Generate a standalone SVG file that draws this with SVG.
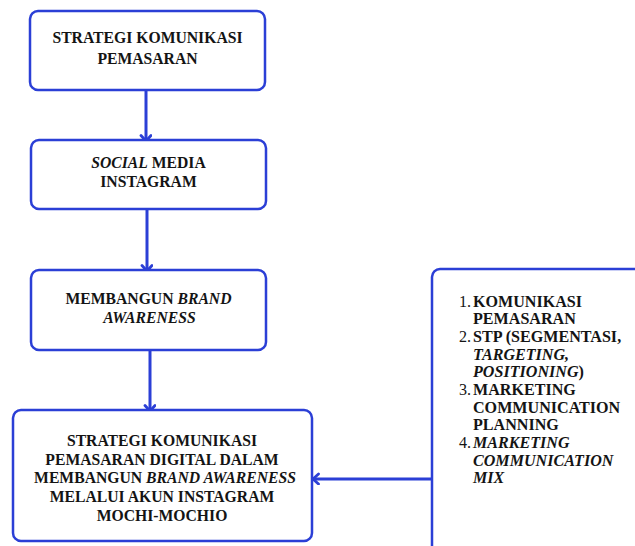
<svg xmlns="http://www.w3.org/2000/svg" width="635" height="546" viewBox="0 0 635 546">
<style>
.box{fill:#fff;stroke:#2B3FD6;stroke-width:2.5}
.t{font-family:"Liberation Serif","Times New Roman",serif;font-weight:bold;font-size:15.7px;fill:#141414}
.r{font-size:16.1px}
.c{text-anchor:middle}
.i{font-style:italic}
.n{font-weight:normal}
.con{stroke:#2B3FD6;stroke-width:3;fill:none;marker-end:url(#arr)}
</style>
<defs>
<marker id="arr" markerUnits="userSpaceOnUse" markerWidth="14" markerHeight="14" refX="7" refY="6" orient="auto" viewBox="0 0 14 14">
<path d="M1.5,1 L7,6 L1.5,11" fill="none" stroke="#2B3FD6" stroke-width="2.8" stroke-linecap="round" stroke-linejoin="round"/>
</marker>
</defs>
<rect width="635" height="546" fill="#fff"/>
<g id="connectors">
<line class="con" x1="146" y1="80" x2="146" y2="141"/>
<line class="con" x1="147" y1="206" x2="147" y2="271"/>
<line class="con" x1="150" y1="350" x2="150" y2="411"/>
<line class="con" x1="432" y1="479" x2="313" y2="479"/>
</g>
<g id="node1">
<rect class="box" x="30" y="11" width="235" height="79" rx="8"/>
<text class="t c" x="147.5" y="43">STRATEGI KOMUNIKASI</text>
<text class="t c" x="147.5" y="64">PEMASARAN</text>
</g>
<g id="node2">
<rect class="box" x="31" y="140" width="235" height="69" rx="8"/>
<text class="t c" x="148.5" y="167.5"><tspan class="i">SOCIAL</tspan> MEDIA</text>
<text class="t c" x="148.5" y="186.5">INSTAGRAM</text>
</g>
<g id="node3">
<rect class="box" x="31" y="270" width="235" height="80" rx="8"/>
<text class="t c" x="148.5" y="304">MEMBANGUN <tspan class="i">BRAND</tspan></text>
<text class="t c i" x="149.5" y="323">AWARENESS</text>
</g>
<g id="node4">
<rect class="box" x="13" y="410" width="299" height="131" rx="8"/>
<text class="t c" x="162" y="446">STRATEGI KOMUNIKASI</text>
<text class="t c" x="162" y="464.7">PEMASARAN DIGITAL DALAM</text>
<text class="t c" x="165" y="483.3">MEMBANGUN <tspan class="i">BRAND AWARENESS</tspan></text>
<text class="t c" x="162" y="502">MELALUI AKUN INSTAGRAM</text>
<text class="t c" x="162" y="520.7">MOCHI-MOCHIO</text>
</g>
<g id="node5">
<rect class="box" x="432" y="269" width="260" height="300" rx="8"/>
<text class="t r n" x="459" y="306.7">1.</text>
<text class="t r" x="473" y="306.7">KOMUNIKASI</text>
<text class="t r" x="473" y="324.3">PEMASARAN</text>
<text class="t r n" x="459" y="342">2.</text>
<text class="t r" x="473" y="342">STP (SEGMENTASI,</text>
<text class="t r i" x="473" y="359.7">TARGETING,</text>
<text class="t r" x="473" y="377.3"><tspan class="i">POSITIONING</tspan>)</text>
<text class="t r n" x="459" y="395">3.</text>
<text class="t r" x="473" y="395">MARKETING</text>
<text class="t r" x="473" y="412.7">COMMUNICATION</text>
<text class="t r" x="473" y="430.3">PLANNING</text>
<text class="t r n" x="459" y="448">4.</text>
<text class="t r i" x="473" y="448">MARKETING</text>
<text class="t r i" x="473" y="465.7">COMMUNICATION</text>
<text class="t r i" x="473" y="483.3">MIX</text>
</g>
</svg>
